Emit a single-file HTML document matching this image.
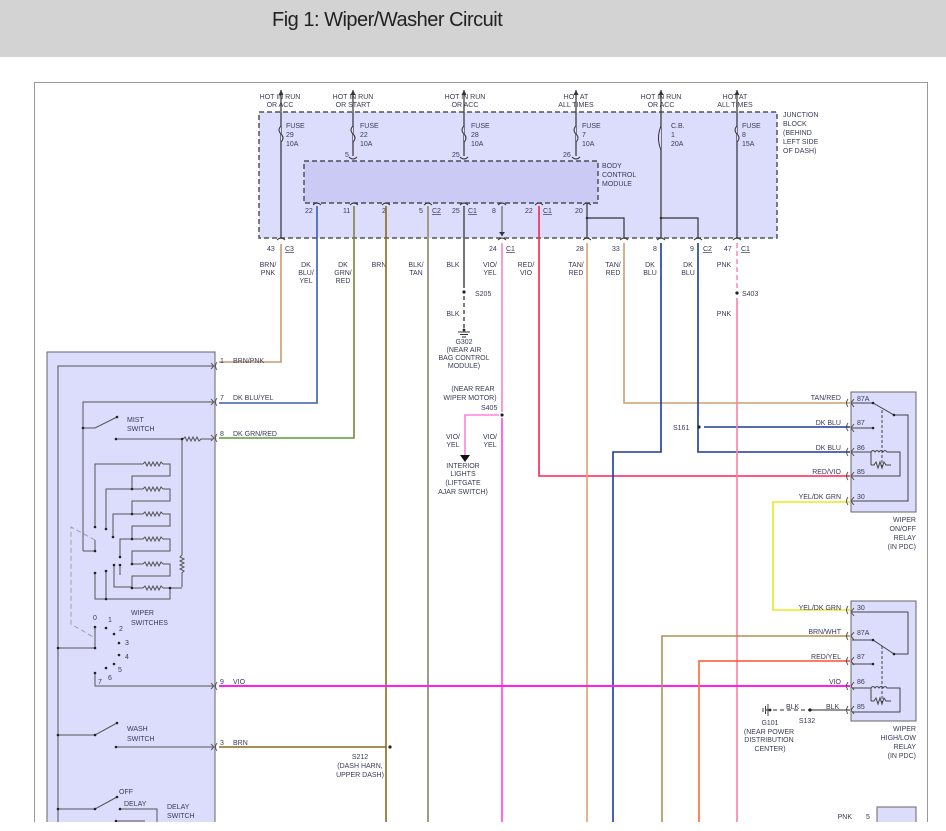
<!DOCTYPE html>
<html><head><meta charset="utf-8"><style>
html,body{margin:0;padding:0;background:#fff;width:946px;height:831px;overflow:hidden}
.hdr{position:absolute;left:0;top:0;width:946px;height:57px;background:#d3d3d3}
.hdr span{position:absolute;left:272px;top:9px;font:20px "Liberation Sans",sans-serif;color:#222;letter-spacing:-0.5px}
svg{position:absolute;left:0;top:0}
text{font-family:"Liberation Sans",sans-serif;font-size:7px;fill:#3a3a5a}
</style></head><body>
<div class="hdr"><span>Fig 1: Wiper/Washer Circuit</span></div>
<svg width="946" height="831" viewBox="0 0 946 831">
<defs><clipPath id="c"><rect x="0" y="0" width="946" height="822"/></clipPath></defs>
<g clip-path="url(#c)">
<!-- frame -->
<path d="M34.5 840 V82.5 H927.5 V840" fill="none" stroke="#999" stroke-width="1"/>
<!-- junction block -->
<rect x="259" y="112" width="518" height="126" fill="#dcdcfc" stroke="#555" stroke-width="1.5" stroke-dasharray="5,3"/>
<rect x="304" y="161" width="294" height="42" fill="#cacaf4" stroke="#333" stroke-width="1.2" stroke-dasharray="5,3"/>
<!-- switch box -->
<rect x="47" y="352" width="168" height="500" fill="#dcdcfc" stroke="#666" stroke-width="1"/>
<!-- relays -->
<rect x="851" y="392" width="65" height="120" fill="#dcdcfc" stroke="#666"/>
<rect x="851" y="601" width="65" height="120" fill="#dcdcfc" stroke="#666"/>
<rect x="877" y="807" width="39" height="30" fill="#dcdcfc" stroke="#666"/>

<!-- top labels -->
<g text-anchor="middle">
<text x="280" y="99">HOT IN RUN</text><text x="280" y="107">OR ACC</text>
<text x="353" y="99">HOT IN RUN</text><text x="353" y="107">OR START</text>
<text x="465" y="99">HOT IN RUN</text><text x="465" y="107">OR ACC</text>
<text x="576" y="99">HOT AT</text><text x="576" y="107">ALL TIMES</text>
<text x="661" y="99">HOT IN RUN</text><text x="661" y="107">OR ACC</text>
<text x="735" y="99">HOT AT</text><text x="735" y="107">ALL TIMES</text>
</g>
<text x="783" y="117">JUNCTION</text><text x="783" y="126">BLOCK</text><text x="783" y="135">(BEHIND</text><text x="783" y="144">LEFT SIDE</text><text x="783" y="153">OF DASH)</text>
<text x="602" y="168">BODY</text><text x="602" y="177">CONTROL</text><text x="602" y="186">MODULE</text>
<g>
<text x="286" y="128">FUSE</text><text x="286" y="137">29</text><text x="286" y="146">10A</text>
<text x="360" y="128">FUSE</text><text x="360" y="137">22</text><text x="360" y="146">10A</text>
<text x="471" y="128">FUSE</text><text x="471" y="137">28</text><text x="471" y="146">10A</text>
<text x="582" y="128">FUSE</text><text x="582" y="137">7</text><text x="582" y="146">10A</text>
<text x="671" y="128">C.B.</text><text x="671" y="137">1</text><text x="671" y="146">20A</text>
<text x="742" y="128">FUSE</text><text x="742" y="137">8</text><text x="742" y="146">15A</text>
<text x="345" y="157">5</text><text x="452" y="157">25</text><text x="563" y="157">26</text>
</g>
<!-- fuse feed lines (dark) -->
<g stroke="#333" stroke-width="1.2" fill="none">
<path d="M281 90 V238"/><path d="M353 90 V156"/><path d="M464 90 V156"/><path d="M576 90 V156"/><path d="M661 90 V238"/><path d="M737 90 V238"/>
<path d="M587 203 V238 M587 218 H624 V238 M661 218 H698 V238"/>
</g>
<!-- fuse squiggles -->
<g stroke="#333" stroke-width="1" fill="#dcdcfc">
<path d="M281 126 q-4 4 0 8 q4 4 0 8" /><path d="M353 126 q-4 4 0 8 q4 4 0 8"/><path d="M464 126 q-4 4 0 8 q4 4 0 8"/><path d="M576 126 q-4 4 0 8 q4 4 0 8"/><path d="M737 126 q-4 4 0 8 q4 4 0 8"/>
<path d="M661 126 q-5 12 0 24"/>
</g>
<g fill="#333"><circle cx="587" cy="218" r="1.3"/><circle cx="661" cy="218" r="1.3"/></g>
<!-- arrows up top -->
<g fill="#333"><path d="M281 90 l-2.5 5 h5z"/><path d="M353 90 l-2.5 5 h5z"/><path d="M464 90 l-2.5 5 h5z"/><path d="M576 90 l-2.5 5 h5z"/><path d="M661 90 l-2.5 5 h5z"/><path d="M737 90 l-2.5 5 h5z"/></g>
<!-- connector arcs -->
<g stroke="#333" stroke-width="0.9" fill="none">
<path d="M277 240 q4 -4 8 0"/><path d="M583 240 q4 -4 8 0"/><path d="M620 240 q4 -4 8 0"/><path d="M657 240 q4 -4 8 0"/><path d="M694 240 q4 -4 8 0"/><path d="M733 240 q4 -4 8 0"/><path d="M498 240 q4 -4 8 0"/>
<path d="M349 157 q4 4 8 0"/><path d="M460 157 q4 4 8 0"/><path d="M572 157 q4 4 8 0"/>
<path d="M313 205 q4 -4 8 0"/><path d="M350 205 q4 -4 8 0"/><path d="M382 205 q4 -4 8 0"/><path d="M424 205 q4 -4 8 0"/><path d="M460 205 q4 -4 8 0"/><path d="M498 205 q4 -4 8 0"/><path d="M535 205 q4 -4 8 0"/><path d="M583 205 q4 -4 8 0"/>
</g>
<!-- pin numbers near BCM -->
<text x="305" y="213">22</text><text x="343" y="213">11</text><text x="382" y="213">2</text><text x="419" y="213">5</text><text x="432" y="213" text-decoration="underline">C2</text><text x="452" y="213">25</text><text x="468" y="213" text-decoration="underline">C1</text><text x="492" y="213">8</text><text x="525" y="213">22</text><text x="543" y="213" text-decoration="underline">C1</text><text x="575" y="213">20</text>
<text x="267" y="251">43</text><text x="285" y="251" text-decoration="underline">C3</text><text x="489" y="251">24</text><text x="506" y="251" text-decoration="underline">C1</text><text x="576" y="251">28</text><text x="612" y="251">33</text><text x="653" y="251">8</text><text x="690" y="251">9</text><text x="703" y="251" text-decoration="underline">C2</text><text x="724" y="251">47</text><text x="741" y="251" text-decoration="underline">C1</text>
<!-- wire labels -->
<g text-anchor="middle">
<text x="268" y="267">BRN/</text><text x="268" y="275">PNK</text>
<text x="306" y="267">DK</text><text x="306" y="275">BLU/</text><text x="306" y="283">YEL</text>
<text x="343" y="267">DK</text><text x="343" y="275">GRN/</text><text x="343" y="283">RED</text>
<text x="379" y="267">BRN</text>
<text x="416" y="267">BLK/</text><text x="416" y="275">TAN</text>
<text x="453" y="267">BLK</text>
<text x="490" y="267">VIO/</text><text x="490" y="275">YEL</text>
<text x="526" y="267">RED/</text><text x="526" y="275">VIO</text>
<text x="576" y="267">TAN/</text><text x="576" y="275">RED</text>
<text x="613" y="267">TAN/</text><text x="613" y="275">RED</text>
<text x="650" y="267">DK</text><text x="650" y="275">BLU</text>
<text x="688" y="267">DK</text><text x="688" y="275">BLU</text>
<text x="724" y="267">PNK</text>
<text x="724" y="316">PNK</text>
<text x="453" y="316">BLK</text>
</g>
<text x="475" y="296">S205</text><text x="742" y="296">S403</text>

<!-- colored wires -->
<g fill="none" stroke-width="1.6">
<path d="M281 244 V362 H219" stroke="#c89a6a"/>
<path d="M317 206 V403 H219" stroke="#3c5cb0"/>
<path d="M354 206 V438 H219" stroke="#5c9a3a"/>
<path d="M354 206 V438" stroke="#b06040" stroke-width="0.6"/>
<path d="M386 206 V840" stroke="#8a6a1c"/>
<path d="M386 747 H219" stroke="#8a6a1c"/>
<path d="M428 206 V840" stroke="#a09a88" stroke-width="2"/>
<path d="M464 206 V288" stroke="#666" stroke-width="1.8"/>
<path d="M464 296 V328" stroke="#444" stroke-width="1.4" stroke-dasharray="4,3"/>
<path d="M502 206 V236" stroke="#777" stroke-width="1.4"/>
<path d="M502 243 V412" stroke="#ff80c0"/>
<path d="M502 418 V840" stroke="#ff44dd"/>
<path d="M499 415 H465 V455" stroke="#ff80e0"/>
<path d="M539 206 V476 H850" stroke="#ff2050"/>
<path d="M587 243 V840" stroke="#e0a070"/>
<path d="M624 243 V403 H850" stroke="#c8a070"/>
<path d="M661 243 V452 H613 V840" stroke="#1c3a9a"/>
<path d="M698 243 V452 H850" stroke="#1c3a9a"/>
<path d="M704 427 H850" stroke="#1c3a9a"/>
<path d="M737 243 V288" stroke="#ff90b0" stroke-dasharray="5,3"/>
<path d="M737 298 V840 H870" stroke="#ff80a0"/>
<path d="M219 686 H850" stroke="#ff20f0" stroke-width="2"/>
<path d="M850 502 H773 V610 H850" stroke="#e8e820"/>
<path d="M850 636 H662 V840" stroke="#b09050"/>
<path d="M850 661 H699 V840" stroke="#ff5030"/>
<path d="M699 661 V840" stroke="#ff8050"/>
<path d="M766 710 H810" stroke="#555" stroke-width="1.2" stroke-dasharray="4,3"/>
<path d="M810 710 H850" stroke="#555" stroke-width="1.2"/>
</g>
<path d="M502 236 l-3 -4 h6z" fill="#333"/>
<path d="M465 462 l-5 -7 h10z" fill="#111"/>
<!-- splices / grounds -->
<g fill="#222"><circle cx="464" cy="292" r="1.6"/><circle cx="737" cy="293" r="1.6"/><circle cx="502" cy="415" r="1.6"/><circle cx="699" cy="427" r="1.6"/><circle cx="390" cy="747" r="1.6"/><circle cx="810" cy="710" r="1.6"/><circle cx="464" cy="330" r="1.4"/><circle cx="770" cy="710" r="1.4"/></g>
<g stroke="#333" stroke-width="0.9"><path d="M458 332 h12 M460 334.5 h8 M462 337 h4"/><path d="M768 704 v12 M765.5 706 v8 M763 708 v4"/></g>
<g text-anchor="middle">
<text x="464" y="344">G302</text><text x="464" y="352">(NEAR AIR</text><text x="464" y="360">BAG CONTROL</text><text x="464" y="368">MODULE)</text>
<text x="473" y="391">(NEAR REAR</text><text x="470" y="400">WIPER MOTOR)</text>
<text x="463" y="468">INTERIOR</text><text x="463" y="476">LIGHTS</text><text x="463" y="485">(LIFTGATE</text><text x="463" y="494">AJAR SWITCH)</text>
<text x="453" y="439">VIO/</text><text x="453" y="447">YEL</text><text x="490" y="439">VIO/</text><text x="490" y="447">YEL</text>
<text x="770" y="725">G101</text><text x="769" y="734">(NEAR POWER</text><text x="769" y="742">DISTRIBUTION</text><text x="770" y="751">CENTER)</text>
<text x="807" y="723">S132</text>
<text x="360" y="759">S212</text><text x="360" y="768">(DASH HARN,</text><text x="360" y="777">UPPER DASH)</text>
</g>
<text x="481" y="410">S405</text><text x="673" y="430">S161</text>
<text x="786" y="709">BLK</text><text x="826" y="709">BLK</text>
<!-- relay wire labels -->
<g text-anchor="end">
<text x="841" y="400">TAN/RED</text><text x="841" y="425">DK BLU</text><text x="841" y="450">DK BLU</text><text x="841" y="474">RED/VIO</text><text x="841" y="499">YEL/DK GRN</text>
<text x="841" y="610">YEL/DK GRN</text><text x="841" y="634">BRN/WHT</text><text x="841" y="659">RED/YEL</text><text x="841" y="684">VIO</text><text x="852" y="819">PNK</text>
<text x="916" y="522">WIPER</text><text x="916" y="531">ON/OFF</text><text x="916" y="540">RELAY</text><text x="916" y="549">(IN PDC)</text>
<text x="916" y="731">WIPER</text><text x="916" y="740">HIGH/LOW</text><text x="916" y="749">RELAY</text><text x="916" y="758">(IN PDC)</text>
</g>
<text x="866" y="819">5</text>
<g font-size="6.5">
<text x="857" y="401">87A</text><text x="857" y="425">87</text><text x="857" y="450">86</text><text x="857" y="474">85</text><text x="857" y="499">30</text>
<text x="857" y="610">30</text><text x="857" y="635">87A</text><text x="857" y="659">87</text><text x="857" y="684">86</text><text x="857" y="709">85</text>
</g>
<!-- relay internals -->
<g stroke="#444" stroke-width="1" fill="none">
<path d="M852 403 H873 L894 415 H908 V501 H852"/>
<path d="M852 428 H873"/><path d="M882 410 V470" stroke-dasharray="3,2"/>
<path d="M852 452 H871 V465 M871 452 q2-3 4 0 q2-3 4 0 q2-3 4 0 q2-3 4 0 H900 V476 H852"/>
<path d="M871 465 h3 l2 -3 l2 6 l2 -6 l2 6 l2 -6 l2 3 h5"/>
<path d="M908 612 H852 M908 612 V654 H894 L873 640 H852"/>
<path d="M852 664 H873"/><path d="M882 646 V705" stroke-dasharray="3,2"/>
<path d="M852 688 H871 V701 M871 688 q2-3 4 0 q2-3 4 0 q2-3 4 0 q2-3 4 0 H900 V712 H852"/>
<path d="M871 701 h3 l2 -3 l2 6 l2 -6 l2 6 l2 -6 l2 3 h5"/>
</g>
<g stroke="#444" stroke-width="0.9" fill="none">
<path d="M854 399 l-3 4 l3 4"/><path d="M854 424 l-3 4 l3 4"/><path d="M854 448 l-3 4 l3 4"/><path d="M854 472 l-3 4 l3 4"/><path d="M854 497 l-3 4 l3 4"/>
<path d="M854 608 l-3 4 l3 4"/><path d="M854 632 l-3 4 l3 4"/><path d="M854 657 l-3 4 l3 4"/><path d="M854 682 l-3 4 l3 4"/><path d="M854 706 l-3 4 l3 4"/>
<path d="M848 399 q-3 4 0 8"/><path d="M848 423 q-3 4 0 8"/><path d="M848 448 q-3 4 0 8"/><path d="M848 472 q-3 4 0 8"/><path d="M848 497 q-3 4 0 8"/>
<path d="M848 606 q-3 4 0 8"/><path d="M848 632 q-3 4 0 8"/><path d="M848 657 q-3 4 0 8"/><path d="M848 682 q-3 4 0 8"/><path d="M848 706 q-3 4 0 8"/>
</g>
<g fill="#222"><circle cx="873" cy="403" r="1.3"/><circle cx="873" cy="428" r="1.3"/><circle cx="894" cy="415" r="1.3"/><circle cx="873" cy="640" r="1.3"/><circle cx="873" cy="664" r="1.3"/><circle cx="894" cy="654" r="1.3"/></g>

<!-- switch box internals -->
<g stroke="#555" stroke-width="1" fill="none">
<path d="M58 852 V366 H213"/>
<path d="M83 551 V402 H213"/>
<path d="M83 428 H95 L117 417"/>
<path d="M116 439 H183 M183 439 l2 -2 l2 4 l2 -4 l2 4 l2 -4 l2 4 l2 -4 l2 4 l2 -2 H213"/>
<path d="M182 439 V555 l-2 2 l4 2 l-4 2 l4 2 l-4 2 l4 2 l-4 2 l4 2 l-2 2 V587"/>
<path d="M95 551 H83"/>
<path d="M95 527 V464 H143 M163 464 H170 V476 H132 V489 H143 M163 489 H170 V501 H132 V514 H143 M163 514 H170 V526 H132 V539 H143 M163 539 H170 V551 H132 V564 H143 M163 564 H170 V576 H132 V588 H143 M163 588 H182"/>
<path d="M106 529 V489 H132"/>
<path d="M113 537 V514 H132"/>
<path d="M120 557 V539 H132"/>
<path d="M120 565 V575"/>
<path d="M114 565 V587 H132"/>
<path d="M95 573 V599 H170 V588"/>
<path d="M106 571 V599"/>
<path d="M95 551 V540"/>
<path d="M58 648 H95 V627"/>
<path d="M95 673 V686 H213"/>
<path d="M58 735 H95 L117 723"/>
<path d="M116 747 H213"/>
<path d="M58 809 H95 L117 797"/>
<path d="M120 809 H157 V830"/>
<path d="M116 821 H145"/>
</g>
<g stroke="#555" stroke-width="1" fill="none">
<path d="M143 464 l2 -2 l2 4 l2 -4 l2 4 l2 -4 l2 4 l2 -4 l2 4 l2 -4 l2 2"/>
<path d="M143 489 l2 -2 l2 4 l2 -4 l2 4 l2 -4 l2 4 l2 -4 l2 4 l2 -4 l2 2"/>
<path d="M143 514 l2 -2 l2 4 l2 -4 l2 4 l2 -4 l2 4 l2 -4 l2 4 l2 -4 l2 2"/>
<path d="M143 539 l2 -2 l2 4 l2 -4 l2 4 l2 -4 l2 4 l2 -4 l2 4 l2 -4 l2 2"/>
<path d="M143 564 l2 -2 l2 4 l2 -4 l2 4 l2 -4 l2 4 l2 -4 l2 4 l2 -4 l2 2"/>
<path d="M143 588 l2 -2 l2 4 l2 -4 l2 4 l2 -4 l2 4 l2 -4 l2 4 l2 -4 l2 2"/>
</g>
<path d="M95 540 L71 527 V624 L95 638" fill="none" stroke="#999" stroke-width="0.9" stroke-dasharray="5,3"/>
<g fill="#222">
<circle cx="83" cy="428" r="1.3"/><circle cx="117" cy="417" r="1.3"/><circle cx="116" cy="439" r="1.3"/><circle cx="182" cy="439" r="1.3"/>
<circle cx="95" cy="527" r="1.3"/><circle cx="106" cy="529" r="1.3"/><circle cx="113" cy="537" r="1.3"/><circle cx="120" cy="557" r="1.3"/><circle cx="120" cy="565" r="1.3"/><circle cx="114" cy="565" r="1.3"/><circle cx="95" cy="573" r="1.3"/><circle cx="106" cy="571" r="1.3"/><circle cx="95" cy="551" r="1.3"/><circle cx="106" cy="599" r="1.3"/>
<circle cx="132" cy="489" r="1.3"/><circle cx="132" cy="514" r="1.3"/><circle cx="132" cy="564" r="1.3"/><circle cx="132" cy="588" r="1.3"/><circle cx="170" cy="588" r="1.3"/><circle cx="132" cy="539" r="1.3"/>
<circle cx="95" cy="627" r="1.3"/><circle cx="106" cy="628" r="1.3"/><circle cx="114" cy="634" r="1.3"/><circle cx="119" cy="643" r="1.3"/><circle cx="119" cy="655" r="1.3"/><circle cx="114" cy="664" r="1.3"/><circle cx="106" cy="668" r="1.3"/><circle cx="95" cy="673" r="1.3"/><circle cx="58" cy="648" r="1.3"/><circle cx="95" cy="648" r="1.3"/>
<circle cx="58" cy="735" r="1.3"/><circle cx="95" cy="735" r="1.3"/><circle cx="117" cy="723" r="1.3"/><circle cx="116" cy="747" r="1.3"/>
<circle cx="58" cy="809" r="1.3"/><circle cx="95" cy="809" r="1.3"/><circle cx="117" cy="797" r="1.3"/><circle cx="120" cy="809" r="1.3"/><circle cx="116" cy="821" r="1.3"/>
</g>
<g stroke="#555" stroke-width="0.9" fill="none">
<path d="M211 363 l3 3 l-3 3 M217 362 q-3 4 0 8"/><path d="M211 399 l3 3 l-3 3 M217 398 q-3 4 0 8"/><path d="M211 435 l3 3 l-3 3 M217 434 q-3 4 0 8"/><path d="M211 683 l3 3 l-3 3 M217 682 q-3 4 0 8"/><path d="M211 744 l3 3 l-3 3 M217 743 q-3 4 0 8"/>
</g>
<text x="220" y="363">1</text><text x="233" y="363">BRN/PNK</text>
<text x="220" y="400">7</text><text x="233" y="400">DK BLU/YEL</text>
<text x="220" y="436">8</text><text x="233" y="436">DK GRN/RED</text>
<text x="220" y="684">9</text><text x="233" y="684">VIO</text>
<text x="220" y="745">3</text><text x="233" y="745">BRN</text>
<text x="127" y="422">MIST</text><text x="127" y="431">SWITCH</text>
<text x="131" y="615">WIPER</text><text x="131" y="625">SWITCHES</text>
<text x="93" y="620">0</text><text x="108" y="622">1</text><text x="119" y="631">2</text><text x="125" y="645">3</text><text x="125" y="659">4</text><text x="118" y="672">5</text><text x="108" y="680">6</text><text x="98" y="684">7</text>
<text x="127" y="731">WASH</text><text x="127" y="741">SWITCH</text>
<text x="119" y="794">OFF</text><text x="124" y="806">DELAY</text>
<text x="167" y="809">DELAY</text><text x="167" y="818">SWITCH</text>
</g>
</svg>
</body></html>
